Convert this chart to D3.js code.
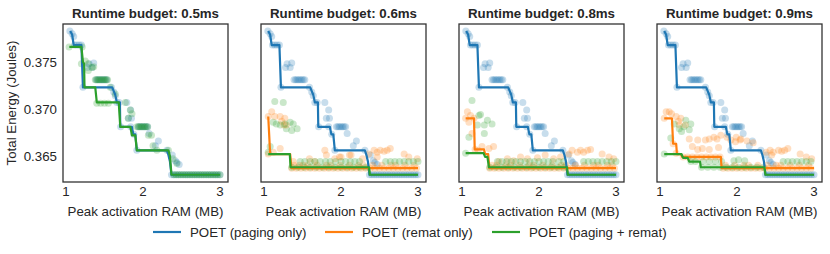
<!DOCTYPE html>
<html>
<head>
<meta charset="utf-8">
<script src="https://cdn.jsdelivr.net/npm/d3@7"></script>
<style>
  body { margin: 0; background: #fff; }
  svg { display: block; font-family: "Liberation Sans", Arial, sans-serif; }
  .tick-label { font-size: 13.3px; fill: #262626; }
  .axis-label { font-size: 13.3px; fill: #262626; }
  .panel-title { font-size: 13.3px; font-weight: bold; fill: #262626; }
  .legend-label { font-size: 13.3px; fill: #262626; }
</style>
</head>
<body>
<svg id="chart"></svg>
<script>
// ---- data ----
const budgets = ['0.5ms', '0.6ms', '0.8ms', '0.9ms'];
const seriesNames = ['POET (paging only)', 'POET (remat only)', 'POET (paging + remat)'];
const xTicks = [1, 2, 3];
const yTicks = [0.365, 0.370, 0.375];

// frontier (step) lines, [peak RAM MB, energy J]
const pagingLine = [[1.055, 0.3783], [1.08, 0.3779], [1.10, 0.3768], [1.20, 0.3768], [1.22, 0.3723],
	[1.60, 0.3723], [1.64, 0.3715], [1.66, 0.3707], [1.70, 0.3707], [1.705, 0.3681], [1.855, 0.3681],
	[1.875, 0.3673], [1.90, 0.3673], [1.92, 0.3656], [2.31, 0.3656], [2.33, 0.3651], [2.35, 0.3644],
	[2.37, 0.3630], [3.0, 0.3630]];

const rematLines = [
	null,
	[[1.055, 0.3692], [1.08, 0.3652], [1.34, 0.3652], [1.355, 0.3637], [3.0, 0.3637]],
	[[1.047, 0.3690], [1.156, 0.3690], [1.165, 0.3657], [1.285, 0.3657], [1.30, 0.3652], [1.34, 0.3652], [1.355, 0.3637], [3.0, 0.3637]],
	[[1.055, 0.3690], [1.155, 0.3690], [1.17, 0.3663], [1.21, 0.3663], [1.22, 0.3652], [1.27, 0.3652], [1.29, 0.3649], [1.79, 0.3649], [1.80, 0.3637], [3.0, 0.3637]]
];

const bothLines = [
	[[1.043, 0.3766], [1.20, 0.3766], [1.22, 0.3750], [1.235, 0.3748], [1.24, 0.3723], [1.38, 0.3723],
	 [1.40, 0.3707], [1.685, 0.3707], [1.705, 0.3681], [1.835, 0.3681], [1.857, 0.3672], [1.90, 0.3672],
	 [1.92, 0.3656], [2.33, 0.3656], [2.35, 0.3650], [2.37, 0.3630], [3.0, 0.3630]],
	[[1.055, 0.3652], [1.335, 0.3652], [1.345, 0.3638], [2.365, 0.3638], [2.375, 0.3630], [3.0, 0.3630]],
	[[1.047, 0.3653], [1.28, 0.3653], [1.30, 0.3649], [1.33, 0.3649], [1.35, 0.3638], [2.365, 0.3638], [2.375, 0.3630], [3.0, 0.3630]],
	[[1.055, 0.3652], [1.28, 0.3652], [1.30, 0.3648], [1.36, 0.3648], [1.38, 0.3644], [1.52, 0.3644], [1.53, 0.3638], [2.355, 0.3638], [2.37, 0.3630], [3.0, 0.3630]]
];

// scatter points (all explored configurations)
const pagingPts = [[1.05, 0.3783], [1.08, 0.3780], [1.10, 0.3777], [1.11, 0.3768], [1.14, 0.3768], [1.17, 0.3768], [1.20, 0.3768],
	[1.22, 0.3723], [1.59, 0.3723], [1.62, 0.3718], [1.64, 0.3714], [1.66, 0.3707],
	[1.30, 0.3748], [1.36, 0.3749], [1.28, 0.3744], [1.34, 0.3744],
	[1.69, 0.3707], [1.79, 0.3707], [1.84, 0.3699], [1.85, 0.3690], [1.81, 0.3690],
	[1.71, 0.3681], [1.84, 0.3681], [1.88, 0.3673], [1.92, 0.3656],
	[2.08, 0.3674], [2.20, 0.3666], [2.16, 0.3661], [2.31, 0.3656], [2.38, 0.3651], [2.42, 0.3645], [2.47, 0.3641], [2.44, 0.3643]];
const pagingRows = [
	{y: 0.3731, xs: [1.39, 1.41, 1.43, 1.45, 1.47, 1.49, 1.51, 1.53]},
	{y: 0.3681, xs: [1.94, 1.96, 1.98, 2.00, 2.02, 2.04, 2.06]},
	{y: 0.3630, xs: [2.37, 2.40, 2.43, 2.46, 2.49, 2.52, 2.55, 2.58, 2.61, 2.64, 2.67, 2.70, 2.73, 2.76, 2.79, 2.82, 2.85, 2.88, 2.91, 2.94, 2.97, 3.0]}
];

const rematPts = [
	[],
	[[1.055, 0.3692], [1.10, 0.3697], [1.14, 0.3692], [1.21, 0.3692], [1.23, 0.3687], [1.27, 0.3690], [1.26, 0.3683], [1.29, 0.3683],
	 [1.055, 0.3652], [1.12, 0.3654], [1.21, 0.3658],
	 [1.38, 0.3644], [1.46, 0.3640], [1.59, 0.3647], [1.66, 0.3644], [1.79, 0.3656], [1.81, 0.3651], [1.92, 0.3647], [2.00, 0.3649], [2.11, 0.3651],
	 [1.98, 0.3649], [2.13, 0.3651], [2.28, 0.3647], [2.36, 0.3652], [2.43, 0.3656], [2.47, 0.3654], [2.51, 0.3656], [2.56, 0.3655],
	 [2.60, 0.3656], [2.64, 0.3658], [2.47, 0.3649], [2.82, 0.3652], [2.88, 0.3649], [2.99, 0.3647]],
	[[1.047, 0.3690], [1.07, 0.3697], [1.11, 0.3693], [1.09, 0.3686], [1.13, 0.3674], [1.156, 0.3690],
	 [1.17, 0.3657], [1.21, 0.3656], [1.26, 0.3660], [1.35, 0.3658], [1.41, 0.3660],
	 [1.48, 0.3644], [1.59, 0.3647], [1.67, 0.3645], [1.76, 0.3649], [1.85, 0.3647], [1.98, 0.3648], [2.08, 0.3651], [2.19, 0.3647], [2.28, 0.3649],
	 [2.39, 0.3652], [2.43, 0.3656], [2.50, 0.3654], [2.54, 0.3656], [2.58, 0.3654], [2.63, 0.3656], [2.67, 0.3657], [2.82, 0.3652], [2.91, 0.3649], [2.97, 0.3647]],
	[[1.055, 0.3690], [1.08, 0.3697], [1.12, 0.3697], [1.15, 0.3695], [1.21, 0.3692], [1.24, 0.3687], [1.27, 0.3690], [1.25, 0.3683], [1.33, 0.3683],
	 [1.17, 0.3663], [1.21, 0.3653],
	 [1.38, 0.3668], [1.49, 0.3667], [1.42, 0.3660], [1.49, 0.3657], [1.55, 0.3658], [1.59, 0.3667], [1.64, 0.3668], [1.70, 0.3670],
	 [1.74, 0.3668], [1.79, 0.3672], [1.64, 0.3657], [1.76, 0.3659], [1.87, 0.3670], [1.92, 0.3667], [1.98, 0.3665], [2.05, 0.3668],
	 [1.99, 0.3670], [2.04, 0.3667], [2.13, 0.3666], [2.21, 0.3664],
	 [2.38, 0.3654], [2.43, 0.3656], [2.47, 0.3654], [2.54, 0.3656], [2.58, 0.3655], [2.62, 0.3656], [2.66, 0.3658], [2.82, 0.3652],
	 [2.90, 0.3649], [2.97, 0.3647], [2.45, 0.3651]]
];
const rematRows = [
	[],
	[{y: 0.3637, xs: [1.36, 1.42, 1.48, 1.54, 1.60, 1.66, 1.72, 1.78, 1.84, 1.90, 1.96, 2.02, 2.08, 2.14, 2.20, 2.26, 2.32, 2.38, 2.44, 2.50, 2.56, 2.62, 2.68, 2.74, 2.80, 2.86, 2.92, 2.98]},
	 {y: 0.3640, xs: [1.39, 1.51, 1.57, 1.69, 1.81, 1.87, 1.99, 2.11, 2.23, 2.29, 2.41, 2.53, 2.65, 2.71, 2.83, 2.95]}],
	[{y: 0.3637, xs: [1.36, 1.42, 1.48, 1.54, 1.60, 1.66, 1.72, 1.78, 1.84, 1.90, 1.96, 2.02, 2.08, 2.14, 2.20, 2.26, 2.32, 2.38, 2.44, 2.50, 2.56, 2.62, 2.68, 2.74, 2.80, 2.86, 2.92, 2.98]},
	 {y: 0.3640, xs: [1.39, 1.45, 1.57, 1.63, 1.75, 1.87, 1.93, 2.05, 2.17, 2.29, 2.35, 2.47, 2.59, 2.71, 2.77, 2.89, 2.95]}],
	[{y: 0.3649, xs: [1.30, 1.36, 1.42, 1.48, 1.54, 1.60, 1.66, 1.72, 1.78]},
	 {y: 0.3637, xs: [1.82, 1.88, 1.94, 2.00, 2.06, 2.12, 2.18, 2.24, 2.30, 2.36, 2.42, 2.48, 2.54, 2.60, 2.66, 2.72, 2.78, 2.84, 2.90, 2.96]},
	 {y: 0.3640, xs: [1.85, 1.97, 2.09, 2.15, 2.27, 2.39, 2.51, 2.57, 2.69, 2.81, 2.93]}]
];

const bothPts = [
	[[1.04, 0.3766], [1.21, 0.3766], [1.20, 0.3748], [1.25, 0.3751], [1.29, 0.3748], [1.34, 0.3744], [1.36, 0.3745], [1.29, 0.3741],
	 [1.575, 0.3723], [1.64, 0.3716], [1.77, 0.3707], [1.835, 0.3699], [1.857, 0.3695], [1.81, 0.3690],
	 [2.07, 0.3672], [2.11, 0.3672], [2.13, 0.3661], [2.18, 0.3656], [2.33, 0.3656], [2.39, 0.3647], [2.44, 0.3642]],
	[[1.14, 0.3708], [1.25, 0.3707], [1.12, 0.3686], [1.16, 0.3684], [1.21, 0.3683], [1.27, 0.3684], [1.34, 0.3686], [1.38, 0.3684],
	 [1.29, 0.3679], [1.36, 0.3677], [1.43, 0.3679], [1.055, 0.3654], [1.08, 0.3660]],
	[[1.13, 0.3709], [1.22, 0.3693], [1.24, 0.3694], [1.33, 0.3688], [1.39, 0.3684], [1.09, 0.3670], [1.29, 0.3674], [1.20, 0.3683],
	 [1.29, 0.3683], [1.047, 0.3653]],
	[[1.14, 0.3669], [1.185, 0.3684], [1.25, 0.3679], [1.28, 0.3676], [1.335, 0.3688], [1.40, 0.3684], [1.38, 0.3678], [1.31, 0.3681],
	 [1.055, 0.3652], [1.96, 0.3645], [2.02, 0.3646], [2.10, 0.3645]]
];
const bothRows = [
	[{y: 0.3731, xs: [1.38, 1.40, 1.42, 1.44, 1.46, 1.48, 1.50, 1.52, 1.54]},
	 {y: 0.3706, xs: [1.40, 1.45, 1.50, 1.55]},
	 {y: 0.3681, xs: [1.92, 1.94, 1.96, 1.98, 2.00, 2.02, 2.04, 2.06]},
	 {y: 0.3630, xs: [2.40, 2.43, 2.46, 2.49, 2.52, 2.55, 2.58, 2.61, 2.64, 2.67, 2.70, 2.73, 2.76, 2.79, 2.82, 2.85, 2.88, 2.91, 2.94, 2.97, 3.0]}],
	[{y: 0.3644, xs: [1.47, 1.53, 1.60, 1.66, 1.73, 1.80, 1.86, 1.93, 2.00, 2.06, 2.12, 2.18, 2.24, 2.58, 2.64, 2.70, 2.76, 2.82, 2.88, 2.94, 3.0]},
	 {y: 0.3638, xs: [1.36, 1.44, 1.52, 1.60, 1.68, 1.76, 1.84, 1.92, 2.00, 2.08, 2.16, 2.24, 2.32]}],
	[{y: 0.3644, xs: [1.46, 1.52, 1.58, 1.64, 1.70, 1.76, 1.82, 1.88, 1.94, 2.00, 2.06, 2.12, 2.18, 2.26, 2.32, 2.58, 2.64, 2.70, 2.76, 2.82, 2.88, 2.94, 3.0]},
	 {y: 0.3638, xs: [1.36, 1.44, 1.52, 1.60, 1.68, 1.76, 1.84, 1.92, 2.00, 2.08, 2.16, 2.24, 2.32]}],
	[{y: 0.3644, xs: [1.40, 1.46, 1.56, 1.64, 1.72, 1.80, 2.60, 2.66, 2.72, 2.78, 2.84, 2.90, 2.96]},
	 {y: 0.3638, xs: [1.54, 1.62, 1.70, 1.78, 1.86, 1.94, 2.02, 2.10, 2.18, 2.26, 2.34]}]
];

// ---- layout ----
const colors = ['#1f77b4', '#ff7f0e', '#2ca02c'];
const panelLeft = [63, 261, 459, 657];
const panelTop = 24;
const panelW = 165;
const panelH = 158;

const svg = d3.select('#chart').attr('width', 830).attr('height', 254);

// shared scales (sharey across panels)
const scaleX = d3.scaleLinear().domain([0.961, 3.104]).range([0, panelW]);
const scaleY = d3.scaleLinear().domain([0.36223, 0.37904]).range([panelH, 0]);

const line = d3.line()
	.x(function(d) { return scaleX(d[0]); })
	.y(function(d) { return scaleY(d[1]); });

function rowsToPts(rows) {
	return rows.flatMap(function(r) { return r.xs.map(function(x) { return [x, r.y]; }); });
}

budgets.forEach(function(b, i) {
	const g = svg.append('g')
		.attr('transform', 'translate(' + panelLeft[i] + ',' + panelTop + ')');

	const scatter = [
		pagingPts.concat(rowsToPts(pagingRows)),
		rematPts[i].concat(rowsToPts(rematRows[i])),
		bothPts[i].concat(rowsToPts(bothRows[i]))
	];

	// scatter underneath
	scatter.forEach(function(pts, s) {
		g.append('g').selectAll('circle')
			.data(pts)
			.enter()
			.append('circle')
			.attr('cx', function(d) { return scaleX(d[0]); })
			.attr('cy', function(d) { return scaleY(d[1]); })
			.attr('r', 3.5)
			.attr('fill', colors[s])
			.attr('fill-opacity', 0.25);
	});

	// frontier lines on top
	const lines = [pagingLine, rematLines[i], bothLines[i]];
	lines.forEach(function(l, s) {
		if (!l) return;
		g.append('path')
			.datum(l)
			.attr('d', line)
			.attr('fill', 'none')
			.attr('stroke', colors[s])
			.attr('stroke-width', 2.2)
			.attr('stroke-linejoin', 'round');
	});

	// frame
	g.append('rect')
		.attr('width', panelW)
		.attr('height', panelH)
		.attr('fill', 'none')
		.attr('stroke', '#333')
		.attr('stroke-width', 1.3);

	// x ticks (no tick marks, seaborn-white style)
	g.selectAll('.xt')
		.data(xTicks)
		.enter()
		.append('text')
		.attr('class', 'tick-label')
		.attr('x', function(d) { return scaleX(d); })
		.attr('y', panelH + 14)
		.attr('text-anchor', 'middle')
		.text(function(d) { return d; });

	g.append('text')
		.attr('class', 'axis-label')
		.attr('x', panelW / 2)
		.attr('y', panelH + 34)
		.attr('text-anchor', 'middle')
		.text('Peak activation RAM (MB)');

	g.append('text')
		.attr('class', 'panel-title')
		.attr('x', panelW / 2)
		.attr('y', -6)
		.attr('text-anchor', 'middle')
		.text('Runtime budget: ' + b);

	if (i === 0) {
		g.selectAll('.yt')
			.data(yTicks)
			.enter()
			.append('text')
			.attr('class', 'tick-label')
			.attr('x', -6)
			.attr('y', function(d) { return scaleY(d) + 5; })
			.attr('text-anchor', 'end')
			.text(function(d) { return d3.format('.3f')(d); });

		g.append('text')
			.attr('class', 'axis-label')
			.attr('transform', 'translate(' + (-47) + ',' + (panelH / 2) + ') rotate(-90)')
			.attr('text-anchor', 'middle')
			.text('Total Energy (Joules)');
	}
});

// legend
const legendX = [153, 325, 492];
const legend = svg.append('g').attr('transform', 'translate(0,232)');
seriesNames.forEach(function(name, s) {
	legend.append('line')
		.attr('x1', legendX[s]).attr('x2', legendX[s] + 28)
		.attr('y1', 0).attr('y2', 0)
		.attr('stroke', colors[s])
		.attr('stroke-width', 2.2);
	legend.append('text')
		.attr('class', 'legend-label')
		.attr('x', legendX[s] + 37)
		.attr('y', 5)
		.text(name);
});
</script>
</body>
</html>
